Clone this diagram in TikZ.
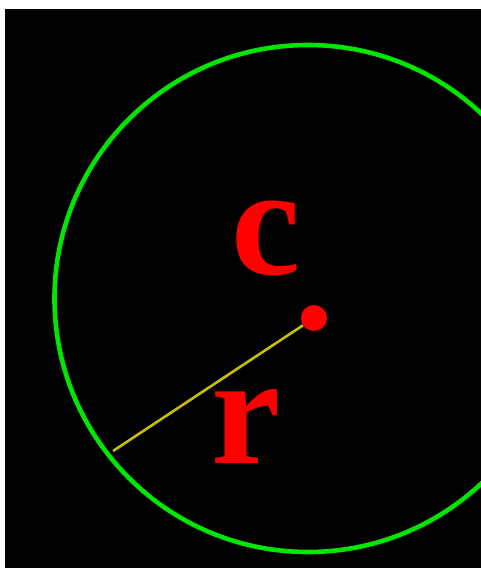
\documentclass[tikz,border=0pt]{standalone}
\usepackage{fontspec}
\setmainfont{Liberation Serif}
\definecolor{ringgreen}{RGB}{0,230,0}
\definecolor{radyellow}{RGB}{200,190,0}
\definecolor{lblred}{RGB}{255,0,0}
\begin{document}
\begin{tikzpicture}[x=1pt,y=-1pt,
  ring/.style={draw=ringgreen,line width=4.6pt},
  radius line/.style={draw=radyellow,line width=2.6pt},
  lbl/.style={text=lblred,font=\fontsize{156}{156}\selectfont\bfseries,inner sep=0pt,anchor=base},
  ctrdot/.style={circle,fill=lblred,minimum size=26pt,inner sep=0pt}]
\useasboundingbox (0,0) rectangle (481,568);
\fill[white] (0,0) rectangle (481,568);
\fill[black] (5,9) rectangle (481,568);
\begin{scope}
\clip (5,9) rectangle (481,568);
\draw[ring] (308,298.5) circle[radius=253.5];
\end{scope}
\node[ctrdot] (dot) at (314,318) {};
\coordinate (edge) at (113,451);
\draw[radius line] (dot) -- (edge);
\node[lbl] (c) at (266,274) {c};
\node[lbl] (r) at (246,463) {r};
\end{tikzpicture}
\end{document}
